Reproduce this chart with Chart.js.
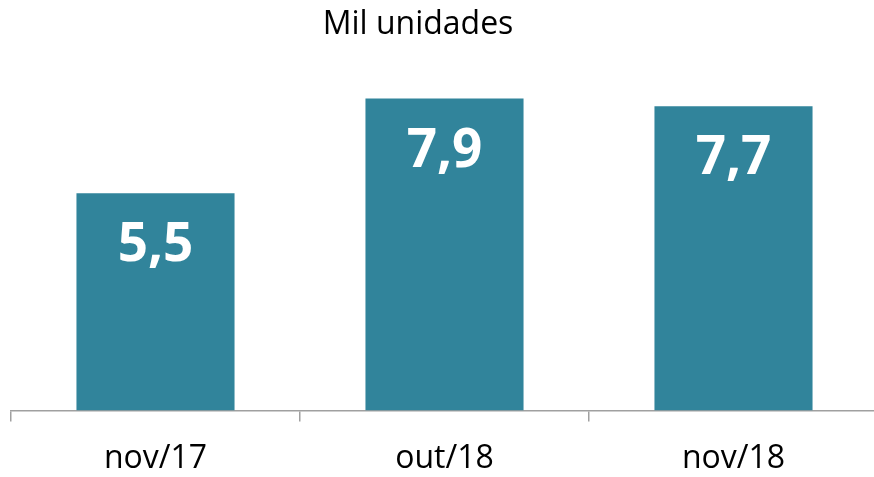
<!DOCTYPE html>
<html>
<head>
<meta charset="utf-8">
<script src="https://cdn.jsdelivr.net/npm/chart.js@4"></script>
<style>
  html, body { margin: 0; padding: 0; background: #fff; overflow: hidden; }
  #wrap { width: 880px; height: 496px; }
</style>
</head>
<body>
<div id="wrap"><canvas id="grafico"></canvas></div>
<script>
const meses = ['nov/17', 'out/18', 'nov/18'];
const valores = [5.5, 7.9, 7.7];
const titulo = 'Mil unidades';

const canvas = document.querySelector('#grafico');

// etiquetas blancas dentro de las barras + titulo
const etiquetas = {
    id: 'etiquetas',
    afterDatasetsDraw(chart) {
        const ctx = chart.ctx;
        const meta = chart.getDatasetMeta(0);
        ctx.save();
        ctx.fillStyle = '#ffffff';
        ctx.font = 'bold 53px "Open Sans"';
        ctx.textAlign = 'center';
        ctx.textBaseline = 'middle';
        meta.data.forEach(function (bar, i) {
            const txt = valores[i].toFixed(1).replace('.', ',');
            ctx.fillText(txt, bar.x, bar.y + 53);
        });
        // titulo un poco a la izquierda del centro, como en el original
        ctx.fillStyle = '#000';
        ctx.font = '32px "Open Sans"';
        ctx.textBaseline = 'alphabetic';
        ctx.fillText(titulo, 418, 34);
        ctx.restore();
    }
};

const data = {
    labels: meses,
    datasets: [{
        data: valores,
        backgroundColor: '#31849b',
        categoryPercentage: 1,
        barPercentage: 0.547
    }]
};

const config = {
    type: 'bar',
    data: data,
    plugins: [etiquetas],
    options: {
        responsive: true,
        maintainAspectRatio: false,
        animation: false,
        layout: {
            padding: { left: 11, right: 2, top: 55, bottom: 0 }
        },
        scales: {
            x: {
                grid: {
                    drawOnChartArea: false,
                    color: '#a0a0a0',
                    lineWidth: 1.5,
                    tickLength: 11
                },
                border: { color: '#a0a0a0', width: 1.5 },
                ticks: {
                    color: '#000',
                    padding: 18,
                    font: { family: 'Open Sans', size: 32 }
                }
            },
            y: {
                display: false,
                min: 0,
                max: 9
            }
        },
        plugins: {
            legend: { display: false },
            tooltip: { enabled: false },
            title: { display: false }
        }
    }
};

new Chart(canvas, config);
</script>
</body>
</html>
